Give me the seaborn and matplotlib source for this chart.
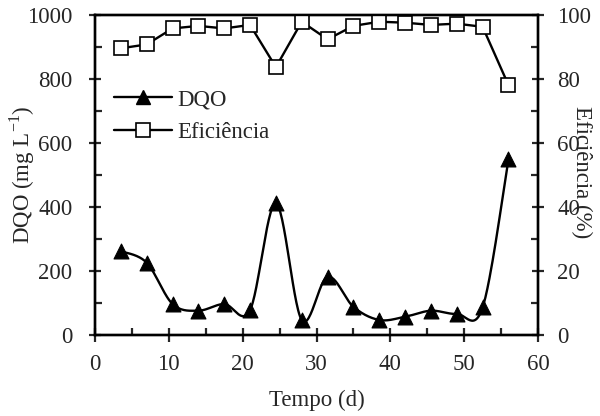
import numpy as np
import pandas as pd
import matplotlib
matplotlib.use("Agg")
import matplotlib.pyplot as plt
from matplotlib.lines import Line2D
from matplotlib.ticker import MultipleLocator
import seaborn as sns

tempo = [3.5, 7, 10.5, 14, 17.5, 21, 24.5, 28, 31.5, 35, 38.5, 42, 45.5, 49, 52.5, 56]
dqo = [262, 226, 97, 76, 97, 78, 411, 47, 182, 88, 47, 57, 76, 66, 86, 549]
eficiencia = [89.6, 90.8, 95.8, 96.6, 95.8, 96.9, 83.7, 97.9, 92.4, 96.6, 97.9, 97.6, 96.9, 97.3, 96.3, 78.1]

sns.set_style("white")
plt.rcParams["font.family"] = ["Liberation Serif", "DejaVu Serif"]
plt.rcParams["mathtext.fontset"] = "custom"
plt.rcParams["mathtext.rm"] = "Liberation Serif"
FS = 16.5


def catmull_rom(x, y, n=30, tension=0.5):
    x = np.asarray(x, float)
    y = np.asarray(y, float)
    px = np.concatenate([[x[0]], x, [x[-1]]])
    py = np.concatenate([[y[0]], y, [y[-1]]])
    xs, ys = [], []
    t = np.linspace(0, 1, n)
    for i in range(1, len(px) - 2):
        p0x, p1x, p2x, p3x = px[i - 1], px[i], px[i + 1], px[i + 2]
        p0y, p1y, p2y, p3y = py[i - 1], py[i], py[i + 1], py[i + 2]
        m1x, m1y = tension * (p2x - p0x), tension * (p2y - p0y)
        m2x, m2y = tension * (p3x - p1x), tension * (p3y - p1y)
        h00 = 2 * t**3 - 3 * t**2 + 1
        h10 = t**3 - 2 * t**2 + t
        h01 = -2 * t**3 + 3 * t**2
        h11 = t**3 - t**2
        xs.append(h00 * p1x + h10 * m1x + h01 * p2x + h11 * m2x)
        ys.append(h00 * p1y + h10 * m1y + h01 * p2y + h11 * m2y)
    return np.concatenate(xs), np.concatenate(ys)


fig = plt.figure(figsize=(6.0, 4.16), dpi=100)
ax = fig.add_axes([95 / 600, 81 / 416, 443 / 600, 320 / 416])
ax2 = ax.twinx()

sx, sy = catmull_rom(tempo, dqo)
smooth = pd.DataFrame({"t": sx, "v": sy})
sns.lineplot(data=smooth, x="t", y="v", ax=ax, color="black", lw=1.7, sort=False, estimator=None)
df1 = pd.DataFrame({"t": tempo, "v": dqo})
sns.scatterplot(data=df1, x="t", y="v", ax=ax, marker="^", s=115, color="black",
                edgecolor="black", linewidth=0.8, zorder=5)

df2 = pd.DataFrame({"t": tempo, "v": eficiencia})
sns.lineplot(data=df2, x="t", y="v", ax=ax2, color="black", lw=1.7, marker="s",
             markersize=10.5, markerfacecolor="white", markeredgecolor="black",
             markeredgewidth=1.2, estimator=None)

ax.set_xlim(0, 60)
ax.set_ylim(0, 1000)
ax2.set_ylim(0, 100)
ax.xaxis.set_major_locator(MultipleLocator(10))
ax.xaxis.set_minor_locator(MultipleLocator(5))
ax.yaxis.set_major_locator(MultipleLocator(200))
ax.yaxis.set_minor_locator(MultipleLocator(100))
ax2.yaxis.set_major_locator(MultipleLocator(20))
ax2.yaxis.set_minor_locator(MultipleLocator(10))

for a in (ax, ax2):
    for s in a.spines.values():
        s.set_linewidth(1.7)
        s.set_color("black")
        s.set_visible(True)

ax.tick_params(axis="x", which="major", direction="inout", length=10, width=1.6,
               labelsize=FS, bottom=True, top=False, pad=8.5)
ax.tick_params(axis="x", which="minor", direction="in", length=5, width=1.6, bottom=True, top=False)
ax.tick_params(axis="y", which="major", direction="inout", length=8.6, width=1.6,
               labelsize=FS, left=True, pad=12)
ax.tick_params(axis="y", which="minor", direction="in", length=5, width=1.6, left=True)
ax2.tick_params(axis="y", which="major", direction="inout", length=8.6, width=1.6,
                labelsize=FS, right=True, pad=9.5)
ax2.tick_params(axis="y", which="minor", direction="in", length=5, width=1.6, right=True)

ax.set_xlabel("Tempo (d)", fontsize=FS)
ax.set_ylabel("DQO (mg L$^{-1}$)", fontsize=FS)
ax2.set_ylabel("Eficiência (%)", fontsize=FS, rotation=-90)
ax.xaxis.set_label_coords(0.5, -65 / 320)
ax.xaxis.label.set_va("center")
ax.yaxis.set_label_coords(-73 / 443, 0.5)
ax.yaxis.label.set_va("center")
ax2.yaxis.set_label_coords(1 + 44 / 443, 160 / 320 + 3 / 320)
ax2.yaxis.label.set_va("center")
ax2.yaxis.label.set_ha("center")

handles = [
    Line2D([], [], color="black", lw=1.7, marker="^", markersize=10.5, markerfacecolor="black"),
    Line2D([], [], color="black", lw=1.7, marker="s", markersize=10.5, markerfacecolor="white",
           markeredgewidth=1.2),
]
ax.legend(handles, ["DQO", "Eficiência"], loc="upper left", bbox_to_anchor=(0.022, 0.797),
          frameon=False, fontsize=FS, handlelength=2.55, handletextpad=0.2,
          labelspacing=0.52, borderaxespad=0)

fig.savefig("out.png", dpi=100)
